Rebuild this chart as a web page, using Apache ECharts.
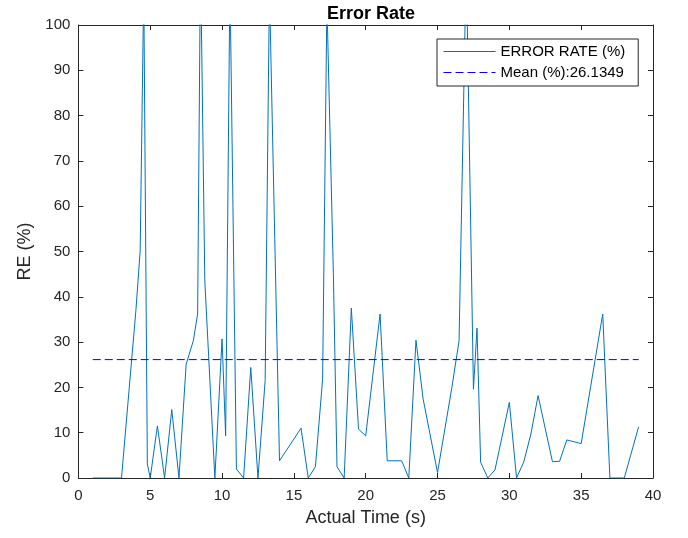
<!DOCTYPE html>
<html>
<head>
<meta charset="utf-8">
<script src="https://cdn.jsdelivr.net/npm/echarts@6/dist/echarts.min.js"></script>
<style>html,body{margin:0;padding:0;background:#fff;}#c{width:688px;height:538px;}</style>
</head>
<body>
<div id="c"></div>
<script>
var times = [1,2,3,4,4.3,4.55,4.8,5,5.5,6,6.5,7,7.5,8,8.3,8.5,8.8,9.5,10,10.25,10.55,11,11.5,12,12.5,13,13.3,14,15.5,16,16.5,17,17.3,17.75,18,18.5,19,19.5,20,21,21.5,22.5,23,23.5,24,25,26,26.5,27,27.5,27.75,28,28.5,29,30,30.5,31,31.5,32,33,33.5,34,35,36.5,37,38,39];
var errorRate = [0,0,0,36.9,50.1,108,3.1,0,11.5,0,15.1,0,25.1,30.3,36.2,115,43.5,0,30.7,9.3,110,2.0,0,24.4,0,21.5,108,3.8,11.0,0,2.5,21.8,105,45,2.5,0,37.5,10.8,9.3,36.2,3.8,3.8,0,30.4,17.4,1.2,20,30.3,114,19.6,33.1,3.5,0,1.8,16.7,0,3.5,9.7,18.2,3.6,3.7,8.4,7.6,36.2,0,0,11.3];
var meanValue = 26.1349;
var meanRange = [1, 39];
var seriesNames = ['ERROR RATE (%)', 'Mean (%):26.1349'];
var seriesColors = ['#0072BD', '#0000FF'];
var titleText = 'Error Rate';
var xName = 'Actual Time (s)';
var yName = 'RE (%)';

var mainData = times.map(function (t, i) { return [t, errorRate[i]]; });
var meanData = meanRange.map(function (t) { return [t, meanValue]; });

var axisColor = '#262626';
var font = 'Liberation Sans, Arial, Helvetica, sans-serif';

function xAx(pos, show) {
  return {
    type: 'value', position: pos, min: 0, max: 40, interval: 5,
    name: show ? xName : '', nameLocation: 'middle', nameGap: 31,
    nameTextStyle: { fontSize: 18, color: axisColor, fontFamily: font },
    axisLine: { show: true, onZero: false, lineStyle: { color: axisColor, width: 1 } },
    axisTick: { show: true, inside: true, length: 5, lineStyle: { color: axisColor } },
    axisLabel: { show: show, margin: 10, fontSize: 15, color: axisColor, fontFamily: font },
    splitLine: { show: false }
  };
}
function yAx(pos, show) {
  return {
    type: 'value', position: pos, min: 0, max: 100, interval: 10,
    name: show ? yName : '', nameLocation: 'middle', nameGap: 41, nameRotate: 90,
    nameTextStyle: { fontSize: 18, color: axisColor, fontFamily: font },
    axisLine: { show: true, onZero: false, lineStyle: { color: axisColor, width: 1 } },
    axisTick: { show: true, inside: true, length: 5, lineStyle: { color: axisColor } },
    axisLabel: { show: show, margin: 8, fontSize: 15, color: axisColor, fontFamily: font },
    splitLine: { show: false }
  };
}

var chart = echarts.init(document.getElementById('c'), null, { renderer: 'canvas' });
chart.setOption({
  animation: false,
  backgroundColor: '#fff',
  title: {
    text: titleText, left: 366, top: 0, textAlign: 'center',
    textStyle: { fontSize: 18, fontWeight: 'bold', color: '#000', fontFamily: font }
  },
  grid: { left: 78.4, right: 35, top: 25, bottom: 60, containLabel: false },
  legend: {
    orient: 'vertical', left: 437, top: 39,
    itemWidth: 52, itemHeight: 13, itemGap: 6,
    padding: [5, 13, 6, 6],
    borderColor: axisColor, borderWidth: 1, backgroundColor: '#fff',
    itemStyle: { opacity: 0 },
    textStyle: { fontSize: 15, color: '#000', fontFamily: font },
    data: [
      { name: seriesNames[0], lineStyle: { color: seriesColors[0], width: 1 } },
      { name: seriesNames[1], lineStyle: { color: seriesColors[1], width: 1, type: [8, 4] } }
    ]
  },
  xAxis: [xAx('bottom', true), xAx('top', false)],
  yAxis: [yAx('left', true), yAx('right', false)],
  series: [
    {
      name: seriesNames[0], type: 'line', data: mainData,
      xAxisIndex: 0, yAxisIndex: 0,
      symbol: 'none', showSymbol: false, clip: true,
      lineStyle: { color: seriesColors[0], width: 1 },
      itemStyle: { color: seriesColors[0] }
    },
    {
      name: seriesNames[1], type: 'line', data: meanData,
      xAxisIndex: 0, yAxisIndex: 0,
      symbol: 'none', showSymbol: false,
      lineStyle: { color: seriesColors[1], width: 1, type: [8, 4] },
      itemStyle: { color: seriesColors[1] }
    }
  ]
});
</script>
</body>
</html>
